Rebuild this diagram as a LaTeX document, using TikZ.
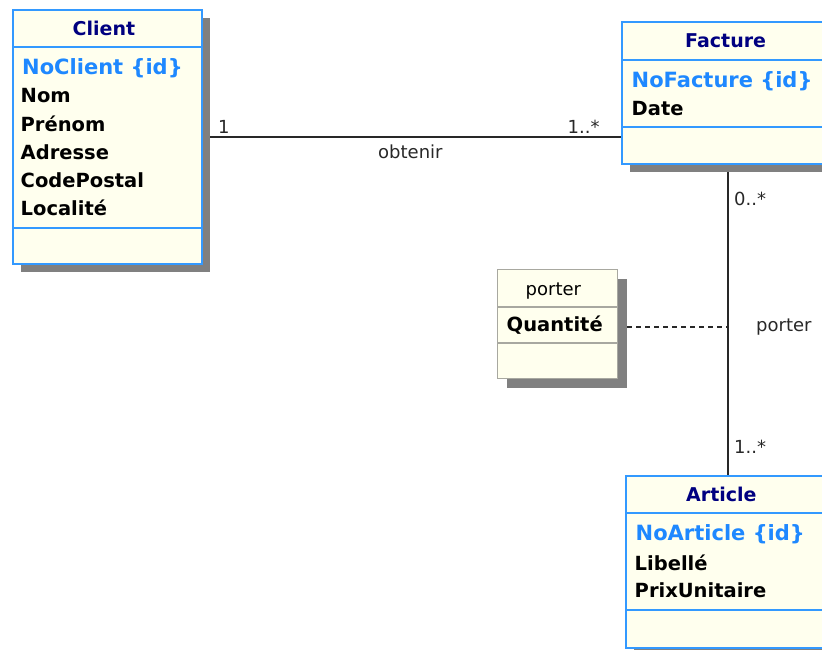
\documentclass[tikz,border=0pt]{standalone}
\usepackage{fontspec}
\setmainfont{DejaVu Sans}
\usetikzlibrary{shadows,backgrounds}
\definecolor{umlblue}{HTML}{3399FF}
\definecolor{idblue}{HTML}{1E88FF}
\definecolor{titlenavy}{HTML}{000080}
\definecolor{paper}{HTML}{FFFFEE}
\definecolor{shade}{HTML}{808080}
\definecolor{greyedge}{HTML}{A8A8A0}
\definecolor{linecol}{HTML}{282828}
\begin{document}
\begin{tikzpicture}[x=1pt,y=-1pt,
  cls/.style={draw=umlblue, line width=1.8pt, fill=paper, anchor=north west, inner sep=0pt,
    drop shadow={shadow xshift=8pt, shadow yshift=-8pt, fill=shade, opacity=1}},
  assocls/.style={draw=greyedge, line width=1.2pt, fill=paper, anchor=north west, inner sep=0pt,
    drop shadow={shadow xshift=9pt, shadow yshift=-9pt, fill=shade, opacity=1}},
  sepline/.style={draw=umlblue, line width=1.5pt},
  greysep/.style={draw=greyedge, line width=1.2pt},
  ttl/.style={anchor=base west, inner sep=0pt, font=\fontsize{19}{19}\selectfont\bfseries, text=titlenavy},
  idf/.style={anchor=base west, inner sep=0pt, font=\fontsize{21}{21}\selectfont\bfseries, text=idblue},
  attr/.style={anchor=base west, inner sep=0pt, font=\fontsize{19.5}{19.5}\selectfont\bfseries, text=black},
  lbl/.style={anchor=base west, inner sep=0pt, font=\fontsize{18}{18}\selectfont, text=linecol},
  assoc/.style={draw=linecol, line width=1.6pt},
  dashlink/.style={draw=linecol, line width=1.6pt, dash pattern=on 5pt off 4pt}
]
\useasboundingbox (0,0) rectangle (822,650);

% Client
\node[cls, minimum width=189pt, minimum height=254pt] (client) at (12,9) {};
\draw[sepline] ([yshift=-38pt]client.north west) -- ([yshift=-38pt]client.north east);
\draw[sepline] ([yshift=-219pt]client.north west) -- ([yshift=-219pt]client.north east);
\node[ttl] (clientT) at (72.5,36) {Client};
\node[idf] (clientA0) at (22,75) {NoClient \{id\}};
\node[attr] (clientA1) at (20.5,103) {Nom};
\node[attr] (clientA2) at (20.5,131.5) {Prénom};
\node[attr] (clientA3) at (20.5,159.5) {Adresse};
\node[attr] (clientA4) at (20.5,187.5) {CodePostal};
\node[attr] (clientA5) at (20.5,215.5) {Localité};

% Facture
\node[cls, minimum width=212pt, minimum height=142pt] (facture) at (621,21) {};
\draw[sepline] ([yshift=-39pt]facture.north west) -- ([yshift=-39pt]facture.north east);
\draw[sepline] ([yshift=-106pt]facture.north west) -- ([yshift=-106pt]facture.north east);
\node[ttl] (factureT) at (685,47.5) {Facture};
\node[idf] (factureA0) at (631.5,88) {NoFacture \{id\}};
\node[attr] (factureA1) at (631.5,116) {Date};

% Article
\node[cls, minimum width=204pt, minimum height=172pt] (article) at (625,475) {};
\draw[sepline] ([yshift=-38pt]article.north west) -- ([yshift=-38pt]article.north east);
\draw[sepline] ([yshift=-135pt]article.north west) -- ([yshift=-135pt]article.north east);
\node[ttl] (articleT) at (686,501.5) {Article};
\node[idf] (articleA0) at (635.5,540) {NoArticle \{id\}};
\node[attr] (articleA1) at (634.5,570) {Libellé};
\node[attr] (articleA2) at (634.5,597.5) {PrixUnitaire};

% porter (association class)
\node[assocls, minimum width=120pt, minimum height=109pt] (porter) at (497,269) {};
\draw[greysep] ([yshift=-38pt]porter.north west) -- ([yshift=-38pt]porter.north east);
\draw[greysep] ([yshift=-74pt]porter.north west) -- ([yshift=-74pt]porter.north east);
\node[lbl, text=black] (porterT) at (525.5,295.5) {porter};
\node[attr] (porterA1) at (506.5,331.5) {Quantité};

% connectors
\coordinate (pj) at (727,327);
\begin{scope}[on background layer]
  \draw[assoc] (client.east) -- (client.east -| facture.west);
  \draw[assoc] (facture.south) -- (article.north);
  \draw[dashlink] (porter.east |- pj) -- (pj);
\end{scope}

% labels
\node[lbl] (m1) at (218,134) {1};
\node[lbl] (m2) at (567.5,134) {1..*};
\node[lbl] (obt) at (378,158) {obtenir};
\node[lbl] (m3) at (734,205) {0..*};
\node[lbl] (por) at (756,331.5) {porter};
\node[lbl] (m4) at (734,453) {1..*};
\end{tikzpicture}
\end{document}
